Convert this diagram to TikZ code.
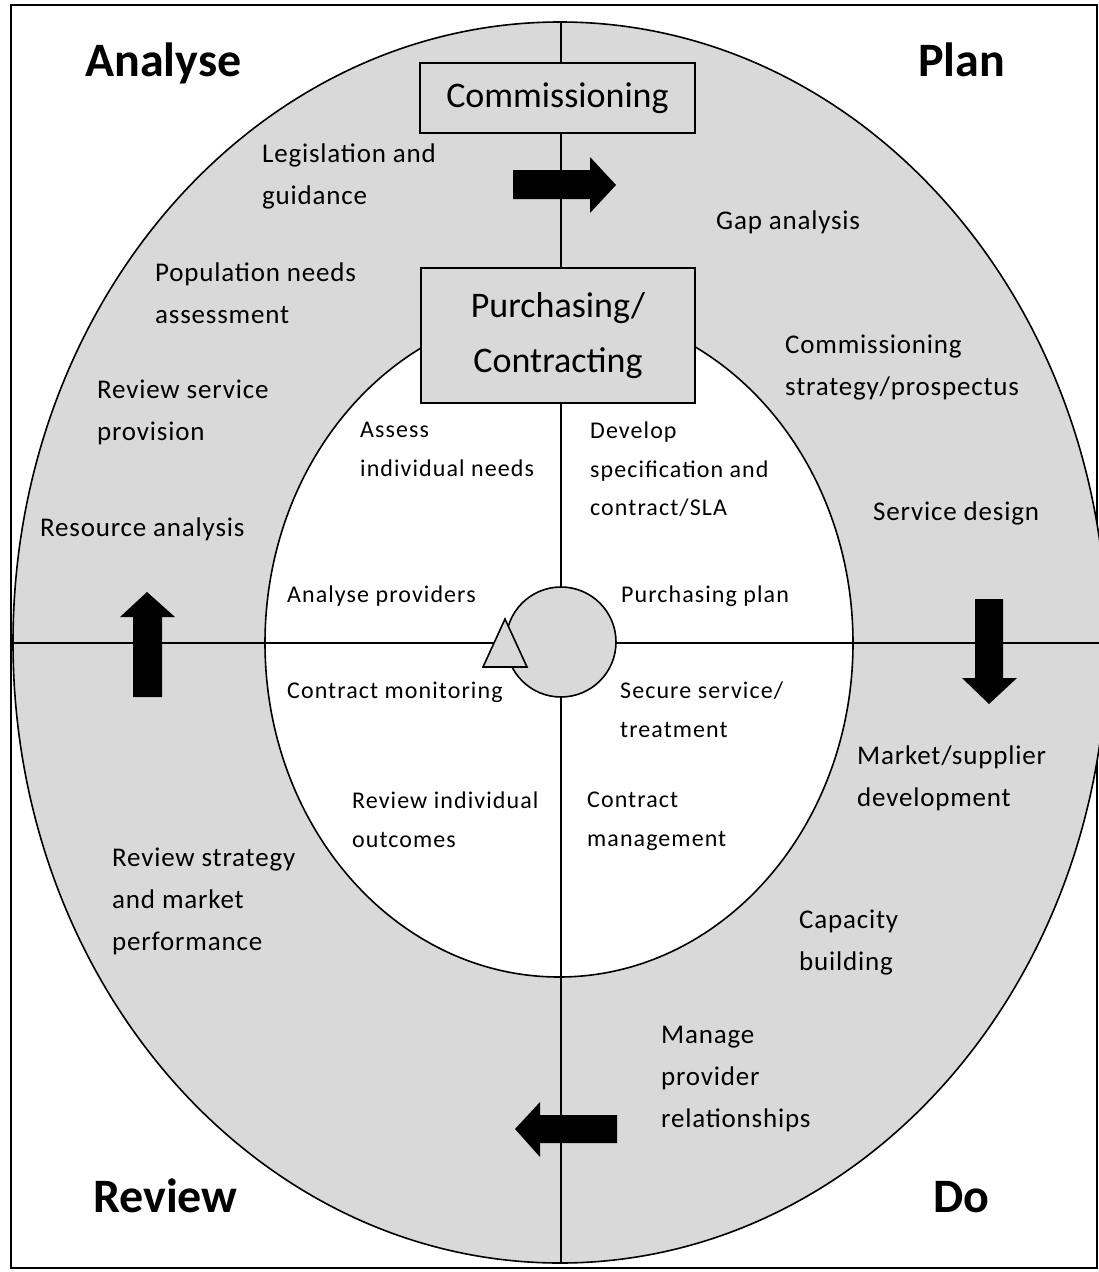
\documentclass[tikz,border=0pt]{standalone}
\usepackage{fontspec}
\setmainfont{Carlito}
\newfontfamily\outerfont[LetterSpace=3]{Carlito}
\newfontfamily\innerfont[LetterSpace=4.5]{Carlito}
\definecolor{ringgray}{HTML}{D9D9D9}
\begin{document}
\begin{tikzpicture}[x=1pt,y=-1pt,
	item/.style={font=\outerfont\fontsize{27}{42}\selectfont,align=left,inner sep=0pt,anchor=north west},
	subitem/.style={font=\innerfont\fontsize{24}{38.5}\selectfont,align=left,inner sep=0pt,anchor=north west},
	phase/.style={font=\fontsize{48}{58}\selectfont\bfseries,inner sep=0pt,anchor=base west},
	stagebox/.style={draw,fill=ringgray,line width=2.5pt,inner sep=0pt,align=center,font=\fontsize{36}{55}\selectfont},
	blockarrow/.style={fill=black}]
			\useasboundingbox (0,0) rectangle (1099,1272);
			\draw[line width=2.5pt] (11,5) rectangle (1097,1268);
			\filldraw[fill=ringgray,line width=1.6pt] (560,642.5) ellipse (547 and 620.5);
			\filldraw[fill=white,line width=1.6pt] (559,643) ellipse (294 and 334);
			\draw[line width=1.4pt] (561,22) -- (561,1263);
			\draw[line width=1.4pt] (13,643) -- (1110,643);
			\filldraw[fill=ringgray,line width=1.6pt] (561,642) circle (55);
			\filldraw[fill=ringgray,line width=1.6pt] (505,619) -- (527,667) -- (483,667) -- cycle;
			\node[stagebox,minimum width=275pt,minimum height=70pt] (comm) at (557.5,98) {Commissioning};
			\node[stagebox,minimum width=274pt,minimum height=135pt] (purch) at (558,335.5) {Purchasing/\\Contracting};
			\fill[blockarrow] (513,170) -- (590,170) -- (590,157) -- (616,185) -- (590,213) -- (590,199) -- (513,199) -- cycle;
			\fill[blockarrow] (975,599) -- (1003,599) -- (1003,678) -- (1017,678) -- (989,704) -- (962,678) -- (975,678) -- cycle;
			\fill[blockarrow] (617,1115) -- (617,1143) -- (540,1143) -- (540,1157) -- (515,1129) -- (540,1102) -- (540,1115) -- cycle;
			\fill[blockarrow] (133,697) -- (133,617) -- (120,617) -- (147,592) -- (175,617) -- (162,617) -- (162,697) -- cycle;
			\node[phase] (analyse) at (85,76) {Analyse};
			\node[phase] (plan) at (918,76) {Plan};
			\node[phase] (review) at (93,1212) {Review};
			\node[phase] (do) at (933,1212) {Do};
			\node[item] (legis) at (262,144) {Legislation and\\guidance};
			\node[item] (popneeds) at (155,263) {Population needs\\assessment};
			\node[item] (revprov) at (97,380) {Review service\\provision};
			\node[item] (resource) at (40,518) {Resource analysis};
			\node[item] (gap) at (716,211) {Gap analysis};
			\node[item] (strategy) at (785,335) {Commissioning\\strategy/prospectus};
			\node[item] (design) at (873,502) {Service design};
			\node[item] (market) at (857,746) {Market/supplier\\development};
			\node[item] (capacity) at (799,910) {Capacity\\building};
			\node[item] (manage) at (661,1026) {Manage\\provider\\relationships};
			\node[item] (revstrat) at (112,848) {Review strategy\\and market\\performance};
			\node[subitem] (assess) at (360,422) {Assess\\individual needs};
			\node[subitem] (develop) at (590,422) {Develop\\specification and\\contract/SLA};
			\node[subitem] (anprov) at (287,586) {Analyse providers};
			\node[subitem] (purplan) at (621,586) {Purchasing plan};
			\node[subitem] (monitor) at (287,682) {Contract monitoring};
			\node[subitem] (secure) at (620,682) {Secure service/\\treatment};
			\node[subitem] (revind) at (352,792) {Review individual\\outcomes};
			\node[subitem] (contman) at (587,792) {Contract\\management};
		\end{tikzpicture}
\end{document}
